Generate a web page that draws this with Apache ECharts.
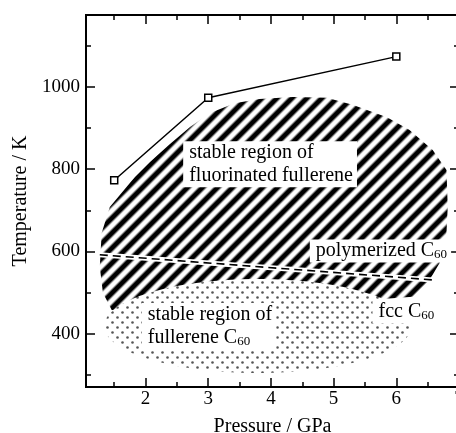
<!DOCTYPE html>
<html>
<head>
<meta charset="utf-8">
<script src="https://cdn.jsdelivr.net/npm/echarts/dist/echarts.min.js"></script>
<style>
  html, body { margin: 0; padding: 0; background: #fff; }
  #chart { width: 456px; height: 433px; }
</style>
</head>
<body>
<div id="chart"></div>
<script>
// axis ticks
const pressureMajor = [2, 3, 4, 5, 6, 7];
const pressureMinor = [1.5, 2.5, 3.5, 4.5, 5.5, 6.5];
const tempMajor = [400, 600, 800, 1000];
const tempMinor = [300, 500, 700, 900, 1100];

// upper stability boundary (squares)
const boundaryP = [1.5, 3, 6];
const boundaryT = [773, 973, 1073];

// polymerized / fcc border (dashed)
const dashedP = [1.27, 6.58];
const dashedT = [592, 531];

// outline of the fluorinated fullerene region (hatched)
const fluorRegionP = [1.46, 1.32, 1.27, 1.30, 1.43, 1.59, 1.83, 2.07, 2.39, 2.71, 3.03, 3.42, 3.82, 4.35, 4.89, 5.30, 5.85, 6.21, 6.58, 6.80, 6.82, 6.80, 6.69, 6.53, 6.26, 4.46, 2.55];
const fluorRegionT = [458, 500, 563, 645, 708, 737, 781, 817, 861, 902, 936, 960, 970, 975, 973, 956, 926, 895, 846, 798, 708, 645, 572, 531, 490, 470, 446];

// fullerene C60 region (dotted ellipse): centre and half-widths
const fccCenter = [3.79, 419];
const fccRadius = [2.45, 114];

// text labels
const labelTexts = [
  'stable region of\nfluorinated fullerene',
  'polymerized C{sub|60}',
  'fcc C{sub|60}',
  'stable region of\nfullerene C{sub|60}'
];
const labelP = [2.60, 4.62, 5.62, 1.94];
const labelT = [812, 601, 453, 419];

const FONT = 'Liberation Serif';

function stripeTile() {
  const n = 15;
  const c = document.createElement('canvas');
  c.width = n; c.height = n;
  const ctx = c.getContext('2d');
  const img = ctx.createImageData(n, n);
  for (let y = 0; y < n; y++) {
    for (let x = 0; x < n; x++) {
      const ph = 2 * Math.PI * (x + y + 1) / n;
      let g = 0.5 - 0.8 * Math.cos(ph);
      g = Math.max(0, Math.min(1, g)) * 255;
      const i = (y * n + x) * 4;
      img.data[i] = img.data[i + 1] = img.data[i + 2] = g;
      img.data[i + 3] = 255;
    }
  }
  ctx.putImageData(img, 0, 0);
  return c;
}

function dotTile() {
  const c = document.createElement('canvas');
  c.width = 10; c.height = 10;
  const ctx = c.getContext('2d');
  ctx.fillStyle = '#fff';
  ctx.fillRect(0, 0, 10, 10);
  ctx.fillStyle = '#555';
  [[2.5, 2.5], [7.5, 7.5]].forEach(([x, y]) => {
    ctx.beginPath();
    ctx.arc(x, y, 1.3, 0, Math.PI * 2);
    ctx.fill();
  });
  return c;
}

const stripes = stripeTile();
const dots = dotTile();

function xAx(pos, vals, len, labels, name) {
  return {
    type: 'value', min: 1.05, max: 7, position: pos,
    name: name || '', nameLocation: 'middle', nameGap: 30,
    nameTextStyle: { fontFamily: FONT, fontSize: 20, color: '#000' },
    axisLine: { show: false }, splitLine: { show: false },
    axisTick: { show: true, inside: true, length: len, customValues: vals, lineStyle: { color: '#000', width: 1.5 } },
    axisLabel: { show: labels, customValues: vals, margin: 3, fontFamily: FONT, fontSize: 19, color: '#000', formatter: v => String(v) }
  };
}
function yAx(pos, vals, len, labels, name) {
  return {
    type: 'value', min: 271, max: 1174, position: pos,
    name: name || '', nameLocation: 'middle', nameGap: 49,
    nameTextStyle: { fontFamily: FONT, fontSize: 20, color: '#000' },
    axisLine: { show: false }, splitLine: { show: false },
    axisTick: { show: true, inside: true, length: len, customValues: vals, lineStyle: { color: '#000', width: 1.5 } },
    axisLabel: { show: labels, customValues: vals, margin: 6, fontFamily: FONT, fontSize: 19, color: '#000', formatter: v => String(v) }
  };
}

const chart = echarts.init(document.getElementById('chart'));
chart.setOption({
  animation: false,
  backgroundColor: '#fff',
  grid: {
    left: 86, top: 15, right: -3, bottom: 46, outerBoundsMode: 'none',
    show: true, borderColor: '#000', borderWidth: 2, backgroundColor: 'transparent'
  },
  xAxis: [
    xAx('bottom', pressureMajor, 9, true, 'Pressure / GPa'),
    xAx('bottom', pressureMinor, 5, false),
    xAx('top', pressureMajor, 9, false),
    xAx('top', pressureMinor, 5, false)
  ],
  yAxis: [
    yAx('left', tempMajor, 9, true, 'Temperature / K'),
    yAx('left', tempMinor, 5, false),
    yAx('right', tempMajor, 9, false),
    yAx('right', tempMinor, 5, false)
  ],
  series: [
    {
      type: 'custom', z: 1, silent: true,
      data: [[fluorRegionP[0], fluorRegionT[0]]],
      renderItem: (params, api) => ({
        type: 'polygon',
        shape: { points: fluorRegionP.map((p, i) => api.coord([p, fluorRegionT[i]])) },
        style: { fill: { image: stripes, repeat: 'repeat' }, stroke: null }
      })
    },
    {
      type: 'custom', z: 2, silent: true,
      data: [fccCenter],
      renderItem: (params, api) => {
        const c = api.coord(fccCenter);
        const s = api.size(fccRadius);
        const pts = [];
        for (let k = 0; k < 90; k++) {
          const a = k / 90 * Math.PI * 2;
          pts.push([c[0] + s[0] * Math.cos(a), c[1] + s[1] * Math.sin(a)]);
        }
        return { type: 'polygon', shape: { points: pts }, style: { fill: { image: dots, repeat: 'repeat' }, stroke: null } };
      }
    },
    {
      // white gap under the dashed border
      type: 'line', z: 3, silent: true, symbol: 'none',
      data: dashedP.map((p, i) => [p, dashedT[i]]),
      lineStyle: { color: '#fff', width: 5 }
    },
    {
      type: 'line', z: 4, silent: true, symbol: 'none',
      data: dashedP.map((p, i) => [p, dashedT[i]]),
      lineStyle: { color: '#000', width: 1.6, type: [8, 5] }
    },
    {
      type: 'custom', z: 5, silent: true,
      data: labelP.map((p, i) => [p, labelT[i]]),
      renderItem: (params, api) => {
        const pt = api.coord([api.value(0), api.value(1)]);
        return {
          type: 'text', x: pt[0], y: pt[1],
          style: {
            text: labelTexts[params.dataIndex],
            font: '20px "Liberation Serif"', fill: '#000',
            align: 'left', verticalAlign: 'middle', lineHeight: 23,
            backgroundColor: '#fff', padding: [0, 4, 0, 6],
            rich: { sub: { font: '13px "Liberation Serif"', fill: '#000', padding: [8, 0, 0, 0] } }
          }
        };
      }
    },
    {
      type: 'line', z: 6, silent: true,
      data: boundaryP.map((p, i) => [p, boundaryT[i]]),
      symbol: 'rect', symbolSize: 7, showSymbol: true,
      lineStyle: { color: '#000', width: 1.5 },
      itemStyle: { color: '#fff', borderColor: '#000', borderWidth: 1.5 }
    }
  ]
});
</script>
</body>
</html>
